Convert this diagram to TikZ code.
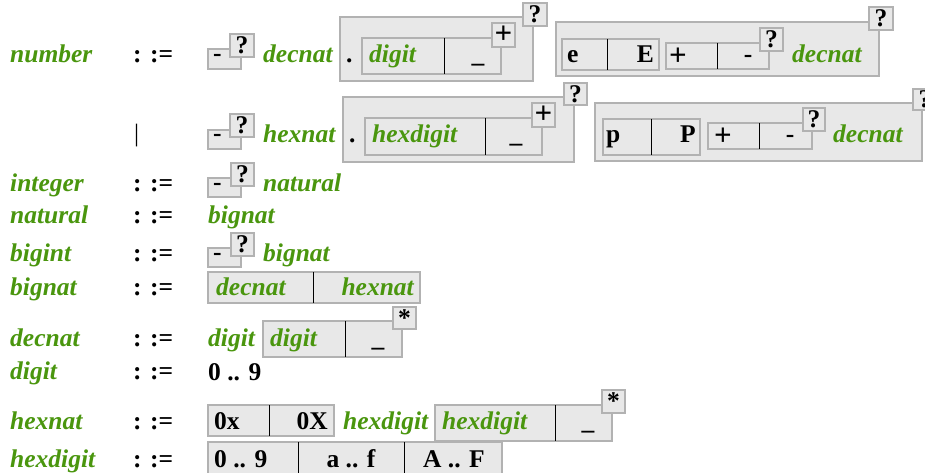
\documentclass[tikz,border=0pt]{standalone}
\usepackage{fontspec}
\setmainfont{Liberation Serif}
\definecolor{ntgreen}{RGB}{74,150,14}
\definecolor{boxfill}{RGB}{232,232,232}
\definecolor{boxgray}{RGB}{178,178,178}
\newcommand\bnfsize{\fontsize{25.5}{30}\selectfont}
\newcommand\plussign{{\fontsize{31}{34}\selectfont +}}
% tag box: name, x1, y1, x2, y2, text
\newcommand\tagbx[6]{\draw[bx] (#2,#3) rectangle (#4,#5);
  \node[tg] (#1) at ({(#2+#4)/2},{(#3+#5)/2}) {#6};}
\begin{document}
\begin{tikzpicture}[x=1pt,y=-1pt,
  bx/.style={draw=boxgray, fill=boxfill, line width=1.3pt},
  dv/.style={draw=black, line width=0.9pt},
  nt/.style={font=\bnfsize\bfseries\itshape, text=ntgreen, inner sep=0pt, anchor=base west},
  tm/.style={font=\bnfsize\bfseries, inner sep=0pt, anchor=base west},
  tg/.style={font=\bnfsize\bfseries, inner sep=0pt, anchor=center}]
\useasboundingbox[fill=white] (0,0) rectangle (925,473);

% ---------- left column ----------
\node[nt] (n-number) at (10,63) {number};
\node[tm] (d-number) at (133,63) {: :=};
\node[font=\fontsize{25}{28}\selectfont, inner sep=0pt, anchor=base west] (d-alt) at (134,142) {|};
\node[nt] (n-integer) at (10,191) {integer};
\node[tm] (d-integer) at (133,191) {: :=};
\node[nt] (n-natural) at (10,223) {natural};
\node[tm] (d-natural) at (133,223) {: :=};
\node[nt] (n-bigint) at (10,261) {bigint};
\node[tm] (d-bigint) at (133,261) {: :=};
\node[nt] (n-bignat) at (10,295) {bignat};
\node[tm] (d-bignat) at (133,295) {: :=};
\node[nt] (n-decnat) at (10,346) {decnat};
\node[tm] (d-decnat) at (133,346) {: :=};
\node[nt] (n-digit) at (10,379) {digit};
\node[tm] (d-digit) at (133,379) {: :=};
\node[nt] (n-hexnat) at (10,429) {hexnat};
\node[tm] (d-hexnat) at (133,429) {: :=};
\node[nt] (n-hexdigit) at (10,467) {hexdigit};
\node[tm] (d-hexdigit) at (133,467) {: :=};

% ---------- number, first alternative ----------
\draw[bx] (208,49) rectangle (241,69);
\node[tm] (m1) at (213,62) {-};
\tagbx{q1}{230}{34}{254}{57}{?}
\node[nt] (r1a) at (263,63) {decnat};
\draw[bx] (340,17) rectangle (533,81);
\node[tm] (dot1) at (346,63) {.};
\draw[bx] (362,38) rectangle (501,74);
\draw[dv] (444,38) -- (444,74);
\node[nt] (r1b) at (369,63) {digit};
\node[tm, anchor=base] (u1) at (478,63) {\_};
\tagbx{p1}{492}{23}{515}{47}{\plussign}
\tagbx{q2}{523}{3}{547}{26}{?}
\draw[bx] (556,22) rectangle (879,76);
\draw[bx] (562,39) rectangle (659,70);
\draw[dv] (607,39) -- (607,70);
\node[tm] (e1) at (567,63) {e};
\node[tm, anchor=base east] (E1) at (654,63) {E};
\draw[bx] (666,43) rectangle (769,69);
\draw[dv] (717,43) -- (717,69);
\node[tm, anchor=base] (pl1) at (678,66) {\plussign};
\node[tm, anchor=base] (mi1) at (748,63) {-};
\tagbx{q3}{760}{28}{783}{51}{?}
\node[nt] (r1c) at (792,63) {decnat};
\tagbx{q4}{869}{7}{893}{30}{?}

% ---------- number, second alternative ----------
\draw[bx] (208,130) rectangle (241,149);
\node[tm] (m2) at (213,142) {-};
\tagbx{q5}{230}{114}{254}{137}{?}
\node[nt] (r2a) at (263,143) {hexnat};
\draw[bx] (343,97) rectangle (574,162);
\node[tm] (dot2) at (349,143) {.};
\draw[bx] (365,118) rectangle (542,155);
\draw[dv] (485,118) -- (485,155);
\node[nt] (r2b) at (372,143) {hexdigit};
\node[tm, anchor=base] (u2) at (516,143) {\_};
\tagbx{p2}{532}{103}{555}{127}{\plussign}
\tagbx{q6}{564}{83}{587}{105}{?}
\draw[bx] (595,103) rectangle (922,161);
\draw[bx] (603,119) rectangle (700,155);
\draw[dv] (651,119) -- (651,155);
\node[tm] (p3) at (606,143) {p};
\node[tm, anchor=base east] (P3) at (696,143) {P};
\draw[bx] (708,123) rectangle (812,149);
\draw[dv] (759,123) -- (759,149);
\node[tm, anchor=base] (pl2) at (723,146) {\plussign};
\node[tm, anchor=base] (mi2) at (790,143) {-};
\tagbx{q7}{803}{108}{825}{131}{?}
\node[nt] (r2c) at (833,143) {decnat};
\tagbx{q8}{913}{89}{937}{110}{?}

% ---------- integer ----------
\draw[bx] (208,178) rectangle (241,197);
\node[tm] (m3) at (213,190) {-};
\tagbx{q9}{231}{163}{254}{186}{?}
\node[nt] (r3) at (263,191) {natural};

% ---------- natural ----------
\node[nt] (r4) at (208,223) {bignat};

% ---------- bigint ----------
\draw[bx] (208,248) rectangle (241,267);
\node[tm] (m4) at (213,260) {-};
\tagbx{q10}{231}{233}{254}{256}{?}
\node[nt] (r5) at (263,261) {bignat};

% ---------- bignat ----------
\draw[bx] (208,272) rectangle (420,303);
\draw[dv] (313,272) -- (313,303);
\node[nt] (r6a) at (216,295) {decnat};
\node[nt, anchor=base east] (r6b) at (414,295) {hexnat};

% ---------- decnat ----------
\node[nt] (r7a) at (208,346) {digit};
\draw[bx] (263,321) rectangle (402,357);
\draw[dv] (345,321) -- (345,357);
\node[nt] (r7b) at (270,346) {digit};
\node[tm, anchor=base] (u3) at (378,346) {\_};
\tagbx{s1}{393}{307}{416}{329}{*}

% ---------- digit ----------
\node[tm] (r8) at (208,380) {0 .. 9};

% ---------- hexnat ----------
\draw[bx] (208,405) rectangle (334,436);
\draw[dv] (269,405) -- (269,436);
\node[tm] (r9a) at (214,429) {0x};
\node[tm, anchor=base east] (r9b) at (328,429) {0X};
\node[nt] (r9c) at (343,429) {hexdigit};
\draw[bx] (435,405) rectangle (612,441);
\draw[dv] (555,405) -- (555,441);
\node[nt] (r9d) at (442,429) {hexdigit};
\node[tm, anchor=base] (u4) at (588,429) {\_};
\tagbx{s2}{602}{390}{625}{413}{*}

% ---------- hexdigit ----------
\draw[bx] (208,442) rectangle (502,474);
\draw[dv] (298,442) -- (298,474);
\draw[dv] (404,442) -- (404,474);
\node[tm] (r10a) at (214,467) {0 .. 9};
\node[tm, anchor=base] (r10b) at (351,467) {a .. f};
\node[tm, anchor=base] (r10c) at (454,467) {A .. F};
\end{tikzpicture}
\end{document}
